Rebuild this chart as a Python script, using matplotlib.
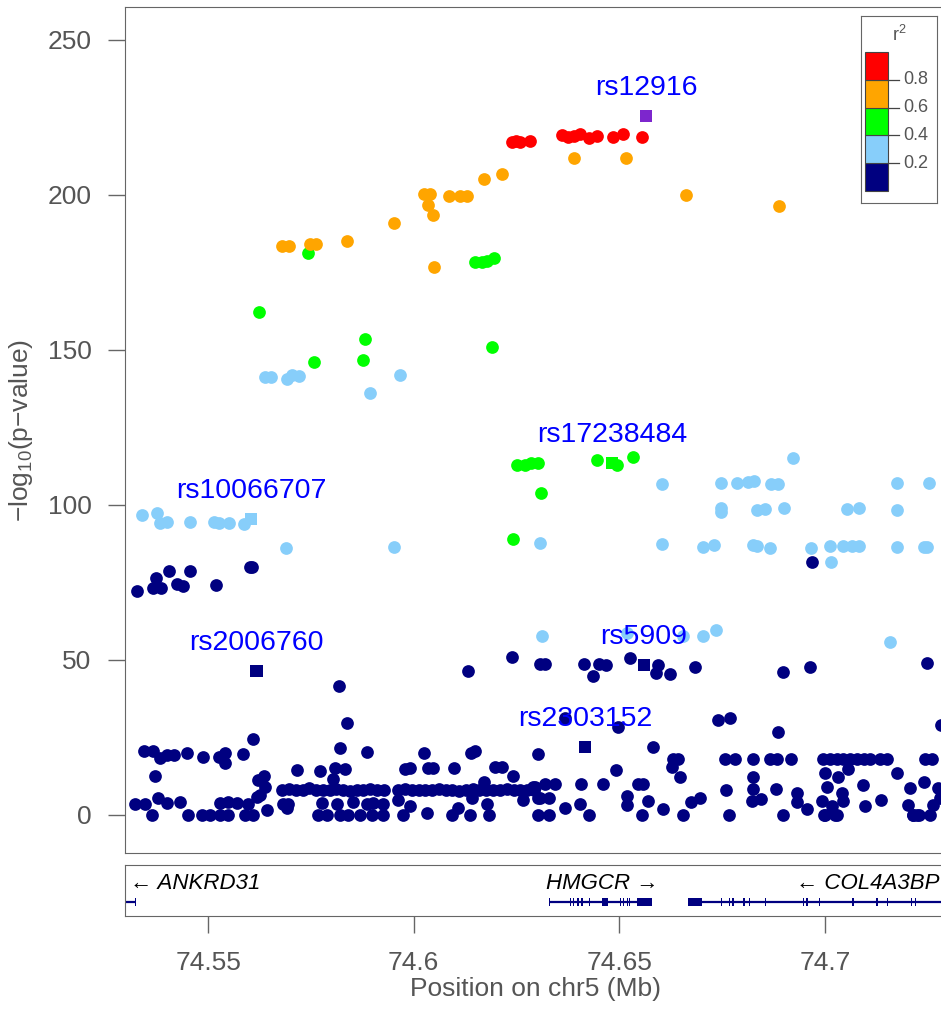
import matplotlib.pyplot as plt

plt.rcParams['font.family'] = ['Liberation Sans', 'DejaVu Sans']
plt.rcParams['mathtext.fontset'] = 'custom'
plt.rcParams['mathtext.rm'] = 'Liberation Sans'
plt.rcParams['mathtext.it'] = 'Liberation Sans:italic'

# ---- association results, position in Mb, -log10(p) ----
# r2 0.8 - 1.0
red_x = [74.6240, 74.6250, 74.6258, 74.6283, 74.6360, 74.6376, 74.6391, 74.6405,
         74.6427, 74.6447, 74.6484, 74.6510, 74.6556]
red_y = [217.0, 217.3, 217.2, 217.3, 219.4, 218.6, 219.0, 219.5,
         218.3, 219.0, 218.6, 219.6, 218.6]

# r2 0.6 - 0.8
orange_x = [74.5681, 74.5698, 74.5748, 74.5763, 74.5839, 74.5951, 74.6025, 74.6040,
            74.6034, 74.6046, 74.6085, 74.6113, 74.6129, 74.6171, 74.6216, 74.6050,
            74.6390, 74.6517, 74.6662, 74.6889]
orange_y = [183.5, 183.5, 184.1, 184.1, 185.1, 190.9, 200.2, 200.2,
            196.7, 193.5, 199.6, 199.6, 199.6, 205.1, 206.8, 176.7,
            211.8, 211.8, 199.9, 196.5]

# r2 0.4 - 0.6
green_x = [74.5742, 74.5625, 74.5881, 74.5757, 74.5878, 74.6190, 74.6149, 74.6166,
           74.6179, 74.6196, 74.6252, 74.6271, 74.6285, 74.6302, 74.6309, 74.6241,
           74.6445, 74.6494, 74.6533]
green_y = [181.4, 162.2, 153.5, 146.0, 146.7, 150.9, 178.2, 178.2,
           178.8, 179.6, 112.9, 112.9, 113.5, 113.5, 103.8, 88.9,
           114.4, 112.7, 115.4]

# r2 0.2 - 0.4
lblue_x = [74.5639, 74.5652, 74.5693, 74.5705, 74.5720, 74.5893, 74.5966,
           74.5339, 74.5375, 74.5382, 74.5401, 74.5456, 74.5515, 74.5526, 74.5552,
           74.5588, 74.5690, 74.5951, 74.6307,
           74.6923, 74.6603, 74.6748, 74.6787, 74.6814, 74.6828, 74.6868, 74.6885,
           74.7175, 74.7253, 74.6748, 74.6748, 74.6834, 74.6855, 74.6901, 74.7055,
           74.7084, 74.7175, 74.6603, 74.6703, 74.6731, 74.6826, 74.6834, 74.6867,
           74.6967, 74.7013, 74.7045, 74.7066, 74.7084, 74.7175, 74.7240, 74.7248,
           74.7014,
           74.6313, 74.6518, 74.6656, 74.6703, 74.6735, 74.7159]
lblue_y = [141.2, 141.2, 140.5, 141.9, 141.5, 136.0, 141.8,
           96.8, 97.3, 94.1, 94.5, 94.5, 94.5, 94.1, 94.1,
           93.8, 86.0, 86.4, 87.6,
           115.1, 106.8, 107.0, 107.0, 107.3, 107.7, 106.7, 106.7,
           107.0, 107.0, 98.9, 97.8, 98.4, 98.7, 98.9, 98.6,
           98.9, 98.4, 87.3, 86.4, 87.0, 87.1, 86.8, 86.0,
           86.1, 86.8, 86.8, 86.8, 86.8, 86.5, 86.5, 86.5,
           81.5,
           57.8, 58.6, 57.7, 57.7, 59.6, 55.8]

# r2 0.0 - 0.2
navy_x = [74.5328, 74.5367, 74.5385, 74.5374, 74.5406, 74.5456, 74.5425, 74.5438,
          74.5519, 74.5602, 74.5608, 74.6968,
          74.5819, 74.5837, 74.5821, 74.5610,
          74.6132, 74.6239, 74.6307, 74.6320, 74.6414, 74.6451, 74.6468, 74.6526,
          74.6593, 74.6589, 74.6624, 74.6435, 74.6684, 74.6899, 74.6964, 74.7249,
          74.6368, 74.6739, 74.6770, 74.6885, 74.7283, 74.6498, 74.6582,
          74.5344, 74.5367, 74.5382, 74.5400, 74.5416, 74.5448, 74.5487, 74.5527,
          74.5541, 74.5541, 74.5584, 74.5886, 74.6025, 74.6139, 74.6149, 74.6303,
          74.6630, 74.6644, 74.6628, 74.6648, 74.6491,
          74.6757, 74.6782, 74.6826, 74.6867, 74.6883, 74.6918, 74.6996, 74.7013,
          74.7029, 74.7045, 74.7061, 74.7078, 74.7094, 74.7110, 74.7134, 74.7151,
          74.7244, 74.7260,
          74.5371, 74.5716, 74.5772, 74.5809, 74.5833, 74.5979, 74.5991, 74.6036,
          74.6048, 74.6099, 74.6198, 74.6214,
          74.7057, 74.7001, 74.7031, 74.7175, 74.7241, 74.6825,
          74.5622, 74.5636, 74.5805, 74.6170, 74.6242, 74.6291,
          74.6295, 74.6320, 74.6344, 74.6406, 74.6460, 74.6546, 74.6557,
          74.6825, 74.6881, 74.7005, 74.7092, 74.7206, 74.7276, 74.6759,
          74.5680, 74.5697, 74.5714, 74.5731, 74.5746, 74.5763, 74.5779, 74.5796,
          74.5812, 74.5829, 74.5845, 74.5862, 74.5878, 74.5895, 74.5911, 74.5928,
          74.5962, 74.5979, 74.5995, 74.6012, 74.6028, 74.6045, 74.6061, 74.6078,
          74.6094, 74.6111, 74.6127, 74.6144, 74.6160, 74.6177, 74.6193, 74.6210,
          74.6226, 74.6243, 74.6259, 74.6276, 74.6292,
          74.5618, 74.5626, 74.5639,
          74.5322, 74.5347, 74.5379, 74.5400, 74.5432, 74.5529, 74.5549, 74.5570,
          74.5598, 74.5683, 74.5695, 74.5691, 74.5776, 74.5813, 74.5853, 74.5886,
          74.5902, 74.5926, 74.5963, 74.5991, 74.6032, 74.6109, 74.6141, 74.6178,
          74.6267, 74.6303,
          74.6307, 74.6330, 74.6367, 74.6405, 74.6518, 74.6520, 74.6571, 74.6606,
          74.6675, 74.6697, 74.6822, 74.6844, 74.6932, 74.6932, 74.6956, 74.6993,
          74.7017, 74.7041, 74.7045, 74.7098, 74.7136, 74.7203, 74.7264, 74.7280,
          74.5363, 74.5452, 74.5485, 74.5505, 74.5529, 74.5549, 74.5590, 74.5610,
          74.5643, 74.5768, 74.5789, 74.5821, 74.5841, 74.5870, 74.5898, 74.5926,
          74.5975, 74.6093, 74.6137, 74.6182,
          74.6303, 74.6328, 74.6427, 74.6555, 74.6654, 74.6767, 74.6899, 74.7001,
          74.7029, 74.7215, 74.7224, 74.7256, 74.6999, 74.7025, 74.7214, 74.7228]
navy_y = [72.3, 73.3, 73.3, 76.5, 78.6, 78.6, 74.4, 73.9,
          74.1, 79.8, 80.1, 81.5,
          41.6, 29.6, 21.7, 24.4,
          46.5, 50.9, 48.6, 48.6, 48.6, 48.6, 48.2, 50.6,
          48.4, 45.7, 45.4, 44.9, 47.6, 46.1, 47.8, 48.9,
          31.2, 30.6, 31.2, 26.7, 29.0, 28.5, 22.0,
          20.6, 20.6, 18.3, 19.4, 19.4, 19.9, 18.6, 18.8,
          19.9, 16.7, 19.6, 20.4, 20.1, 19.9, 20.6, 19.7,
          18.0, 18.0, 15.6, 12.2, 14.5,
          18.1, 18.1, 18.1, 18.1, 18.1, 18.1, 18.1, 18.1,
          18.1, 18.1, 18.1, 18.1, 18.1, 18.1, 18.1, 18.1,
          18.1, 18.1,
          12.6, 14.5, 14.3, 15.1, 14.7, 14.7, 15.1, 15.1,
          15.1, 15.1, 15.6, 15.6,
          14.7, 13.4, 12.2, 13.4, 10.5, 12.2,
          11.3, 12.4, 11.5, 10.7, 12.4, 9.1,
          9.1, 9.9, 9.9, 9.9, 9.9, 9.9, 9.9,
          8.3, 8.3, 9.1, 9.6, 8.6, 8.6, 8.1,
          8.1, 8.3, 7.9, 8.1, 8.6, 8.1, 7.9, 8.1,
          8.3, 8.1, 7.6, 8.1, 8.1, 8.4, 8.1, 7.9,
          8.1, 8.3, 8.1, 8.1, 7.9, 8.1, 8.4, 8.1,
          8.1, 7.8, 8.1, 8.3, 8.1, 8.1, 7.9, 8.1,
          8.3, 8.1, 8.1, 7.9, 8.1,
          5.7, 6.5, 9.1,
          3.5, 3.5, 5.4, 3.8, 4.0, 3.8, 4.0, 3.8,
          3.4, 3.5, 3.5, 2.2, 3.8, 3.5, 4.3, 3.5,
          3.8, 3.5, 4.8, 2.7, 0.5, 2.2, 5.4, 3.5,
          4.8, 5.4,
          5.4, 5.4, 2.3, 3.5, 6.1, 3.1, 4.6, 1.8,
          4.0, 5.4, 4.6, 5.1, 7.0, 4.3, 1.8, 4.6,
          2.7, 7.0, 4.6, 2.9, 4.8, 3.2, 3.2, 5.4,
          0.0, 0.0, 0.0, 0.0, 0.0, 0.0, 0.0, 0.0,
          1.6, 0.0, 0.0, 0.0, 0.0, 0.0, 0.0, 0.0,
          0.0, 0.0, 0.0, 0.0,
          0.0, 0.0, 0.0, 0.0, 0.0, 0.0, 0.0, 0.0,
          0.0, 0.0, 0.0, 0.0, 0.0, 0.0, 0.0, 0.0]

# labelled SNPs (drawn as squares)
snp_names = ['rs12916', 'rs17238484', 'rs10066707', 'rs2006760', 'rs5909', 'rs2303152']
snp_x = [74.6565, 74.6483, 74.5605, 74.5618, 74.6560, 74.6417]
snp_y = [225.5, 113.6, 95.5, 46.5, 48.4, 22.0]
snp_col = ['#7D26CD', '#00FF00', '#87CEFA', '#000080', '#000080', '#000080']

# ---- genes: name, span, strand, exons ----
gene_names = ['ANKRD31', 'HMGCR', 'COL4A3BP']
gene_start = [74.5200, 74.6329, 74.6668]
gene_end = [74.5324, 74.6579, 74.8000]
gene_strand = ['-', '+', '-']
gene_label_x = [74.5310, 74.6322, 74.7279]
gene_label_ha = ['left', 'left', 'right']
gene_exons = [
    [(74.5322, 74.5325)],
    [(74.6328, 74.6331), (74.6379, 74.6382), (74.6387, 74.6390), (74.6398, 74.6401),
     (74.6408, 74.6411), (74.6426, 74.6429), (74.6457, 74.6473), (74.6501, 74.6504),
     (74.6509, 74.6512), (74.6519, 74.6522), (74.6523, 74.6526), (74.6542, 74.6579)],
    [(74.6668, 74.6701), (74.6748, 74.6751), (74.6766, 74.6769), (74.6775, 74.6778),
     (74.6802, 74.6805), (74.6815, 74.6818), (74.6854, 74.6857), (74.6947, 74.6950),
     (74.6955, 74.6958), (74.6986, 74.6989), (74.7067, 74.7070), (74.7125, 74.7128),
     (74.7150, 74.7153), (74.7210, 74.7213), (74.7218, 74.7221)],
]

r2_edges = [0.0, 0.2, 0.4, 0.6, 0.8, 1.0]
r2_colors = ['#000080', '#87CEFA', '#00FF00', '#FFA500', '#FF0000']
xticks = [74.55, 74.6, 74.65, 74.7]
xtick_labels = ['74.55', '74.6', '74.65', '74.7']

GREY = '#555555'
SPINE = '#666666'
W, H = 941, 1019


def box(l, t, r, b):
    return [l / W, 1 - b / H, (r - l) / W, (b - t) / H]


fig = plt.figure(figsize=(W / 100, H / 100), dpi=100)
ax = fig.add_axes(box(125, 7, 947, 853))
gax = fig.add_axes(box(125, 865, 947, 916), sharex=ax)

xlim = (74.5298, 74.7297)

# main panel
kw = dict(s=84, linewidths=0, zorder=3)
ax.scatter(navy_x, navy_y, color=r2_colors[0], **kw)
ax.scatter(lblue_x, lblue_y, color=r2_colors[1], **kw)
ax.scatter(green_x, green_y, color=r2_colors[2], **kw)
ax.scatter(orange_x, orange_y, color=r2_colors[3], **kw)
ax.scatter(red_x, red_y, color=r2_colors[4], **kw)
ax.scatter(snp_x, snp_y, color=snp_col, marker='s', s=78, linewidths=0, zorder=4)
for name, x, y in zip(snp_names, snp_x, snp_y):
    ax.annotate(name, (x, y), xytext=(0, 20), textcoords='offset points',
                ha='center', va='center', fontsize=20.5, color='#0000FF', zorder=5)

ax.set_xlim(*xlim)
ax.set_ylim(-12.3, 260.6)
ax.set_yticks([0, 50, 100, 150, 200, 250])
ax.tick_params(axis='y', length=12, width=1, color=SPINE, labelsize=19,
               labelcolor=GREY, pad=12)
ax.tick_params(axis='x', bottom=False, labelbottom=False)
ax.set_ylabel('−log$_{10}$(p−value)', fontsize=19, color=GREY, labelpad=9)
for sp in ax.spines.values():
    sp.set_color(SPINE)
ax.spines['right'].set_visible(False)

# r2 legend
lax = fig.add_axes(box(861, 16, 937, 203))
lax.set_xlim(0, 1)
lax.set_ylim(-0.0863, 1.259)
lax.bar([0.053] * 5, [0.2] * 5, width=0.302, bottom=r2_edges[:-1], align='edge',
        color=r2_colors, edgecolor='#444444', linewidth=0.8)
for v in r2_edges[1:-1]:
    lax.plot([0.355, 0.5], [v, v], color='#444444', lw=0.9)
    lax.text(0.56, v, f'{v:.1f}', fontsize=13, color=GREY, va='center', ha='left')
lax.text(0.5, 1.122, 'r$^{2}$', fontsize=13, color=GREY, ha='center', va='center')
lax.set_xticks([])
lax.set_yticks([])
for sp in lax.spines.values():
    sp.set_color(SPINE)

# gene track
line_y = 0.27
ex_h = 0.16
for i, name in enumerate(gene_names):
    gax.plot([gene_start[i], gene_end[i]], [line_y, line_y], color='#000080', lw=1.6,
             solid_capstyle='butt')
    for s, e in gene_exons[i]:
        gax.bar(s, ex_h, width=e - s, bottom=line_y - ex_h / 2, align='edge',
                color='#000080', linewidth=0)
    label = f'{name} →' if gene_strand[i] == '+' else f'← {name}'
    gax.text(gene_label_x[i], 0.64, label, fontsize=16, style='italic',
             ha=gene_label_ha[i], va='center', color='black')

gax.set_ylim(0, 1)
gax.set_yticks([])
gax.set_xticks(xticks)
gax.set_xticklabels(xtick_labels)
gax.set_xlim(*xlim)
gax.tick_params(axis='x', length=12, width=1, color=SPINE, labelsize=19,
                labelcolor=GREY, pad=13.5)
gax.set_xlabel('Position on chr5 (Mb)', fontsize=19, color=GREY, labelpad=1)
for sp in gax.spines.values():
    sp.set_color(SPINE)
gax.spines['right'].set_visible(False)

fig.savefig('out.png', dpi=100)
